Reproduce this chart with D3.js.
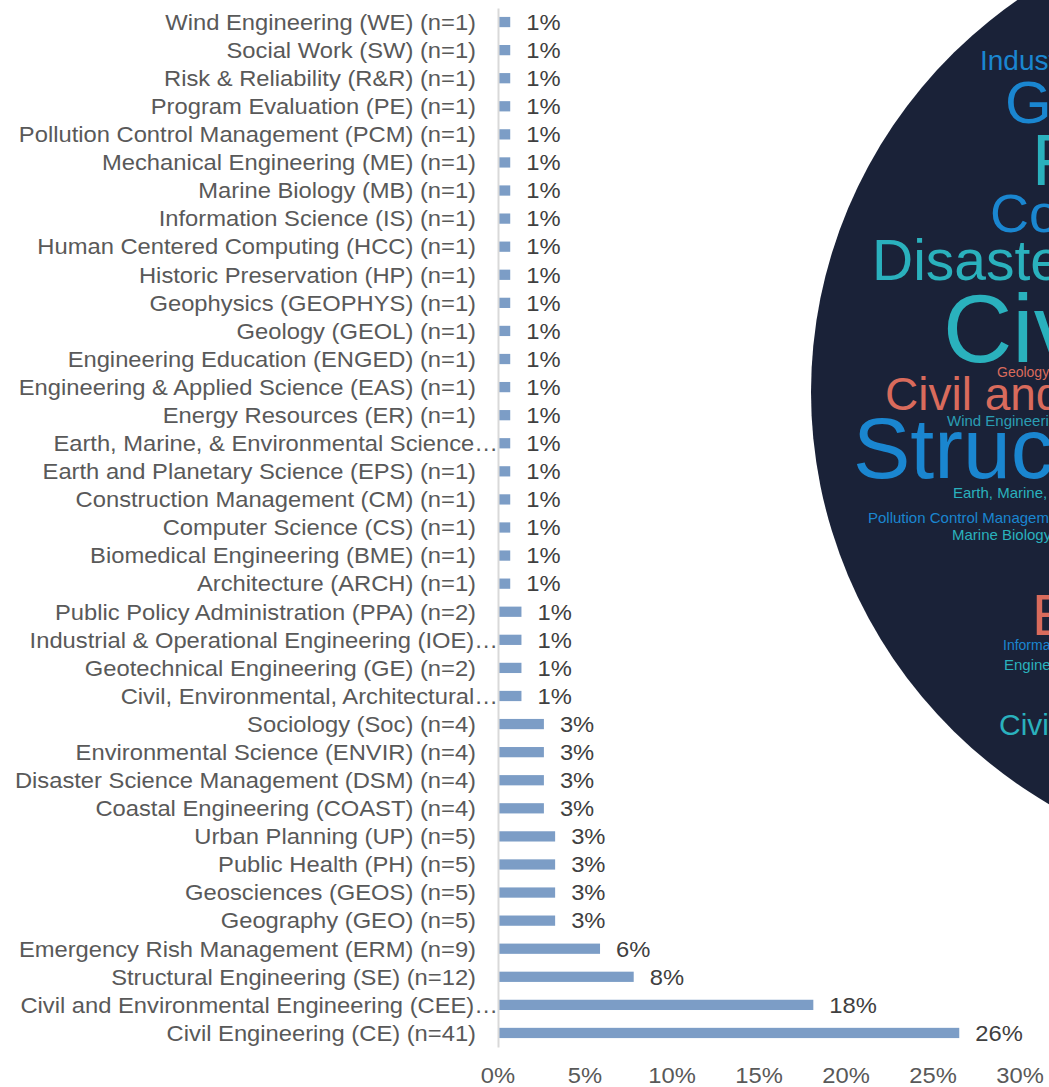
<!DOCTYPE html>
<html>
<head>
<meta charset="utf-8">
<script src="https://cdn.jsdelivr.net/npm/d3@7"></script>
<style>
  html, body { margin: 0; padding: 0; background: #fff; }
  svg { display: block; font-family: "Liberation Sans", Arial, sans-serif; }
</style>
</head>
<body>
<svg id="chart" width="1049" height="1087"></svg>
<script>
// ---------------- data ----------------
const categories = [
  "Wind Engineering (WE) (n=1)",
  "Social Work (SW) (n=1)",
  "Risk & Reliability (R&R) (n=1)",
  "Program Evaluation (PE) (n=1)",
  "Pollution Control Management (PCM) (n=1)",
  "Mechanical Engineering (ME) (n=1)",
  "Marine Biology (MB) (n=1)",
  "Information Science (IS) (n=1)",
  "Human Centered Computing (HCC) (n=1)",
  "Historic Preservation (HP) (n=1)",
  "Geophysics (GEOPHYS) (n=1)",
  "Geology (GEOL) (n=1)",
  "Engineering Education (ENGED) (n=1)",
  "Engineering & Applied Science (EAS) (n=1)",
  "Energy Resources (ER) (n=1)",
  "Earth, Marine, & Environmental Science…",
  "Earth and Planetary Science (EPS) (n=1)",
  "Construction Management (CM) (n=1)",
  "Computer Science (CS) (n=1)",
  "Biomedical Engineering (BME) (n=1)",
  "Architecture (ARCH) (n=1)",
  "Public Policy Administration (PPA) (n=2)",
  "Industrial & Operational Engineering (IOE)…",
  "Geotechnical Engineering (GE) (n=2)",
  "Civil, Environmental, Architectural…",
  "Sociology (Soc) (n=4)",
  "Environmental Science (ENVIR) (n=4)",
  "Disaster Science Management (DSM) (n=4)",
  "Coastal Engineering (COAST) (n=4)",
  "Urban Planning (UP) (n=5)",
  "Public Health (PH) (n=5)",
  "Geosciences (GEOS) (n=5)",
  "Geography (GEO) (n=5)",
  "Emergency Rish Management (ERM) (n=9)",
  "Structural Engineering (SE) (n=12)",
  "Civil and Environmental Engineering (CEE)…",
  "Civil Engineering (CE) (n=41)"
];
// respondent counts per category (same order)
const counts = [1,1,1,1,1,1,1,1,1,1,1,1,1,1,1,1,1,1,1,1,1,2,2,2,2,4,4,4,4,5,5,5,5,9,12,28,41];
const totalRespondents = 155;
const xTicks = [0, 0.05, 0.10, 0.15, 0.20, 0.25, 0.30];

// word cloud content
const cloudWords = [
  "Industrial & Operational Engineering", "Geography", "Public Health", "Coastal Engineering",
  "Disaster Science Management", "Civil Engineering", "Geology", "Civil and Environmental Engineering",
  "Wind Engineering", "Structural Engineering", "Earth, Marine, & Environmental Science",
  "Pollution Control Management", "Marine Biology", "Emergency Risk Management",
  "Information Science", "Engineering Education", "Civil, Environmental, Architectural"
];
const cloudGroups = ["blue","blue","teal","blue","teal","teal","salmon","salmon","teal2","blue","teal","blue","teal","salmon","blue","teal","teal"];

// ---------------- layout / style ----------------
const cloudLayout = [ // [x, baseline, fontSize]
  [980, 70, 28], [1005, 123, 60], [1032, 185, 72], [990, 232, 54],
  [872, 280, 57], [943, 362, 96], [997, 377, 14], [885, 410, 46],
  [947, 426, 15], [853, 478, 86], [953, 498, 15],
  [868, 523, 15], [952, 540, 15], [1032, 635, 58],
  [1003, 650, 14], [1004, 670, 15], [999, 735, 30]
];
const cloudColors = { blue: "#1a86d0", teal: "#2ab1bd", teal2: "#2a9db3", salmon: "#d96b5c" };

const svg = d3.select("#chart");
const sx = 1.08; // horizontal text stretch of the reference
const fs = 22;

// word cloud disc
const defs = svg.append("defs");
const ell = { cx: 1299, cy: 392, rx: 488, ry: 480 };
defs.append("clipPath").attr("id", "disc")
  .append("ellipse").attr("cx", ell.cx).attr("cy", ell.cy).attr("rx", ell.rx).attr("ry", ell.ry);
svg.append("ellipse").attr("cx", ell.cx).attr("cy", ell.cy).attr("rx", ell.rx).attr("ry", ell.ry)
  .attr("fill", "#1a2238");
svg.append("g").attr("clip-path", "url(#disc)")
  .selectAll("text").data(cloudWords).join("text")
  .attr("x", (d, i) => cloudLayout[i][0])
  .attr("y", (d, i) => cloudLayout[i][1])
  .attr("font-size", (d, i) => cloudLayout[i][2])
  .attr("fill", (d, i) => cloudColors[cloudGroups[i]])
  .text(d => d);

// bar chart
const x = d3.scaleLinear().domain([0, 0.30]).range([498, 1020]);
const y = d3.scaleBand().domain(categories).range([8, 1047]).paddingInner(0.635).paddingOuter(0.3175);
const rows = categories.map((c, i) => ({ c, n: counts[i], v: counts[i] / totalRespondents }));
const fmt = d3.format(".0%");

svg.append("g").selectAll("rect").data(rows).join("rect")
  .attr("x", x(0) + 1)
  .attr("y", d => y(d.c))
  .attr("width", d => x(d.v) - x(0))
  .attr("height", y.bandwidth())
  .attr("fill", "#7c9dc6");

// axis line
const yAxis = d3.axisLeft(y).tickSize(0).tickFormat("");
const ag = svg.append("g").attr("transform", `translate(${x(0)},0)`).call(yAxis);
ag.select(".domain").attr("stroke", "#d9d9d9").attr("stroke-width", 2);

// category labels
svg.append("g").selectAll("text").data(rows).join("text")
  .attr("transform", d => `translate(${d.c.endsWith("…") ? x(0) : x(0) - 22},${y(d.c) + y.bandwidth() / 2 + 7.8}) scale(${sx},1)`)
  .attr("text-anchor", "end")
  .attr("font-size", fs)
  .attr("fill", "#595959")
  .text(d => d.c);

// value labels
svg.append("g").selectAll("text").data(rows).join("text")
  .attr("transform", d => `translate(${x(d.v) + 17},${y(d.c) + y.bandwidth() / 2 + 7.8}) scale(${sx},1)`)
  .attr("font-size", fs)
  .attr("fill", "#404040")
  .text(d => fmt(d.v));

// x tick labels
svg.append("g").selectAll("text").data(xTicks).join("text")
  .attr("transform", d => `translate(${x(d)},1083) scale(${sx},1)`)
  .attr("text-anchor", "middle")
  .attr("font-size", fs)
  .attr("fill", "#595959")
  .text(d => fmt(d));
</script>
</body>
</html>
